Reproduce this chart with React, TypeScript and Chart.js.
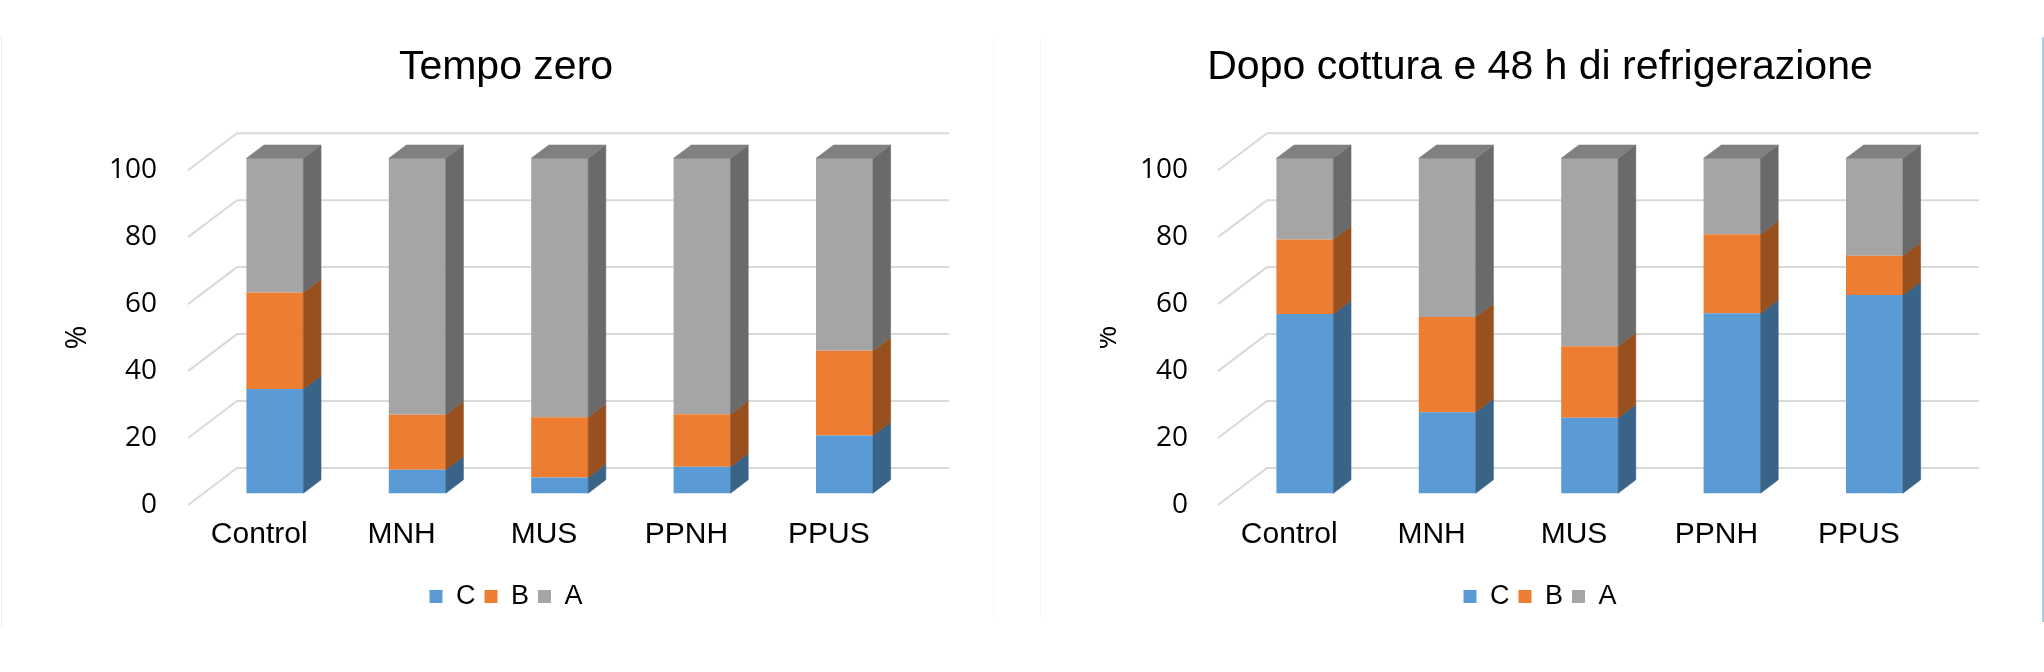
import React, { useEffect, useRef } from "react";
import { Chart, registerables } from "chart.js";

Chart.register(...registerables);

// ---------- data ----------
const categories = ["Control", "MNH", "MUS", "PPNH", "PPUS"];
const seriesNames = ["C", "B", "A"];

const zeroC = [31.1, 7.0, 4.7, 7.9, 17.2];
const zeroB = [28.8, 16.4, 18.0, 15.7, 25.3];
const zeroA = [40.1, 76.6, 77.3, 76.4, 57.5];

const afterC = [53.5, 24.2, 22.5, 53.7, 59.2];
const afterB = [22.3, 28.4, 21.4, 23.6, 11.7];
const afterA = [24.2, 47.4, 56.1, 22.7, 29.1];

const yMin = 0;
const yMax = 100;
const yStep = 20;

const titleZero = "Tempo zero";
const titleAfter = "Dopo cottura e 48 h di refrigerazione";
const yTitle = "%";

// ---------- style ----------
const FRONT = ["#5B9BD5", "#ED7D31", "#A5A5A5"];
const SIDE = ["#3A6388", "#98501F", "#6A6A6A"];
const TOP = ["#4779A6", "#B96127", "#808080"];
const GRID = "#D9D9D9";
const DEPTH_X = 49;
const DEPTH_Y = 37;
const BAR_OFF = 0.32;
const BAR_DEPTH = 0.36;
const TICK_FONT = "'Open Sans', Lato, sans-serif";
const TEXT_FONT = "'Liberation Sans', Arial, sans-serif";

const box3d = {
  id: "box3d",
  beforeDatasetsDraw(chart: any) {
    const { ctx, chartArea, scales } = chart;
    const y = scales.y;
    ctx.save();
    ctx.strokeStyle = GRID;
    ctx.lineWidth = 2;
    y.ticks.forEach((t: any) => {
      const py = y.getPixelForValue(t.value);
      ctx.beginPath();
      ctx.moveTo(chartArea.left, py);
      ctx.lineTo(chartArea.left + DEPTH_X, py - DEPTH_Y);
      ctx.lineTo(chartArea.right + DEPTH_X, py - DEPTH_Y);
      ctx.stroke();
    });
    ctx.restore();
    ctx.save();
    ctx.translate(BAR_OFF * DEPTH_X, -BAR_OFF * DEPTH_Y);
  },
  afterDatasetsDraw(chart: any) {
    const { ctx } = chart;
    const bx = BAR_DEPTH * DEPTH_X;
    const by = BAR_DEPTH * DEPTH_Y;
    const n = chart.data.datasets.length;
    chart.data.datasets.forEach((ds: any, i: number) => {
      const meta = chart.getDatasetMeta(i);
      meta.data.forEach((el: any) => {
        const { x, y, base, width } = el.getProps(["x", "y", "base", "width"], true);
        const l = x - width / 2;
        const r = x + width / 2;
        const top = Math.min(y, base);
        const bot = Math.max(y, base);
        ctx.fillStyle = SIDE[i];
        ctx.strokeStyle = SIDE[i];
        ctx.lineWidth = 0.6;
        ctx.beginPath();
        ctx.moveTo(r, top);
        ctx.lineTo(r + bx, top - by);
        ctx.lineTo(r + bx, bot - by);
        ctx.lineTo(r, bot);
        ctx.closePath();
        ctx.fill();
        ctx.stroke();
        if (i === n - 1) {
          ctx.fillStyle = TOP[i];
          ctx.strokeStyle = TOP[i];
          ctx.beginPath();
          ctx.moveTo(l, top);
          ctx.lineTo(l + bx, top - by);
          ctx.lineTo(r + bx, top - by);
          ctx.lineTo(r, top);
          ctx.closePath();
          ctx.fill();
          ctx.stroke();
        }
      });
    });
    ctx.restore();
  },
};

type Cfg = {
  title: string;
  c: number[];
  b: number[];
  a: number[];
  left: number;
  width: number;
  padRight: number;
  yAxisWidth: number;
  rightSpace: number;
  tickPad: number;
  titlePad: number;
};

function StackChart(props: Cfg) {
  const ref = useRef<HTMLCanvasElement | null>(null);
  useEffect(() => {
    if (!ref.current) return;
    const values = [props.c, props.b, props.a];
    const chart = new Chart(ref.current, {
      type: "bar",
      data: {
        labels: categories,
        datasets: seriesNames.map((name, i) => ({
          label: name,
          data: values[i],
          backgroundColor: FRONT[i],
          borderWidth: 0,
          barPercentage: 0.4,
          categoryPercentage: 1,
          clip: false as any,
        })),
      },
      options: {
        responsive: false,
        animation: false,
        events: [],
        layout: {
          padding: { left: 0, right: props.padRight, top: 0, bottom: 52 },
        },
        plugins: {
          tooltip: { enabled: false },
          title: {
            display: true,
            text: props.title,
            color: "#000",
            font: { family: TEXT_FONT, size: 41, weight: "normal" as any },
            padding: { top: 43, bottom: 78 },
          },
          legend: {
            display: true,
            position: "bottom",
            labels: {
              boxWidth: 13,
              boxHeight: 13,
              padding: 9,
              color: "#000",
              font: { family: TEXT_FONT, size: 27 },
            },
          },
        },
        scales: {
          x: {
            stacked: true,
            grid: { display: false, drawTicks: false },
            border: { display: false },
            ticks: {
              color: "#000",
              padding: 12,
              maxRotation: 0,
              autoSkip: false,
              font: { family: TEXT_FONT, size: 30 },
            },
            afterFit: (s: any) => {
              s.height = 69;
            },
          },
          y: {
            stacked: true,
            min: yMin,
            max: yMax,
            grid: { display: false, drawTicks: false },
            border: { display: false },
            ticks: {
              stepSize: yStep,
              color: "#000",
              padding: props.tickPad,
              font: { family: TICK_FONT, size: 28 },
            },
            title: {
              display: true,
              text: yTitle,
              color: "#000",
              font: { family: TICK_FONT, size: 29 },
              padding: { top: props.titlePad, bottom: 0 },
            },
            afterFit: (s: any) => {
              s.width = props.yAxisWidth;
            },
          },
          // empty right-hand space for the 3D depth of the plot
          depth: {
            type: "linear",
            position: "right",
            display: true,
            grid: { display: false, drawTicks: false },
            border: { display: false },
            ticks: { display: false },
            afterFit: (s: any) => {
              s.width = props.rightSpace;
            },
          },
        },
      },
      plugins: [box3d],
    });
    return () => chart.destroy();
  }, []);
  return (
    <canvas
      ref={ref}
      width={props.width}
      height={672}
      style={{ position: "absolute", left: props.left, top: 0, width: props.width, height: 672 }}
    />
  );
}

export default function App() {
  return (
    <div
      style={{
        position: "fixed",
        left: 0,
        top: 0,
        width: 2044,
        height: 672,
        background: "#fff",
        overflow: "hidden",
      }}
    >
      <div style={{ position: "absolute", left: 1, top: 35, width: 1, height: 592, background: "#e6f4f1" }} />
      <div style={{ position: "absolute", left: 993, top: 39, width: 1, height: 578, background: "#f8f8f8" }} />
      <div style={{ position: "absolute", left: 1040, top: 39, width: 1, height: 578, background: "#f8f8f8" }} />
      <div style={{ position: "absolute", left: 2042, top: 37, width: 2, height: 585, background: "#a9cfe0" }} />
      <StackChart
        title={titleZero}
        c={zeroC}
        b={zeroB}
        a={zeroA}
        left={0}
        width={1020}
        padRight={8}
        yAxisWidth={188}
        rightSpace={112}
        tickPad={31}
        titlePad={60}
      />
      <StackChart
        title={titleAfter}
        c={afterC}
        b={afterB}
        a={afterA}
        left={1100}
        width={944}
        padRight={64}
        yAxisWidth={118}
        rightSpace={50}
        tickPad={30}
        titlePad={-10}
      />
    </div>
  );
}
